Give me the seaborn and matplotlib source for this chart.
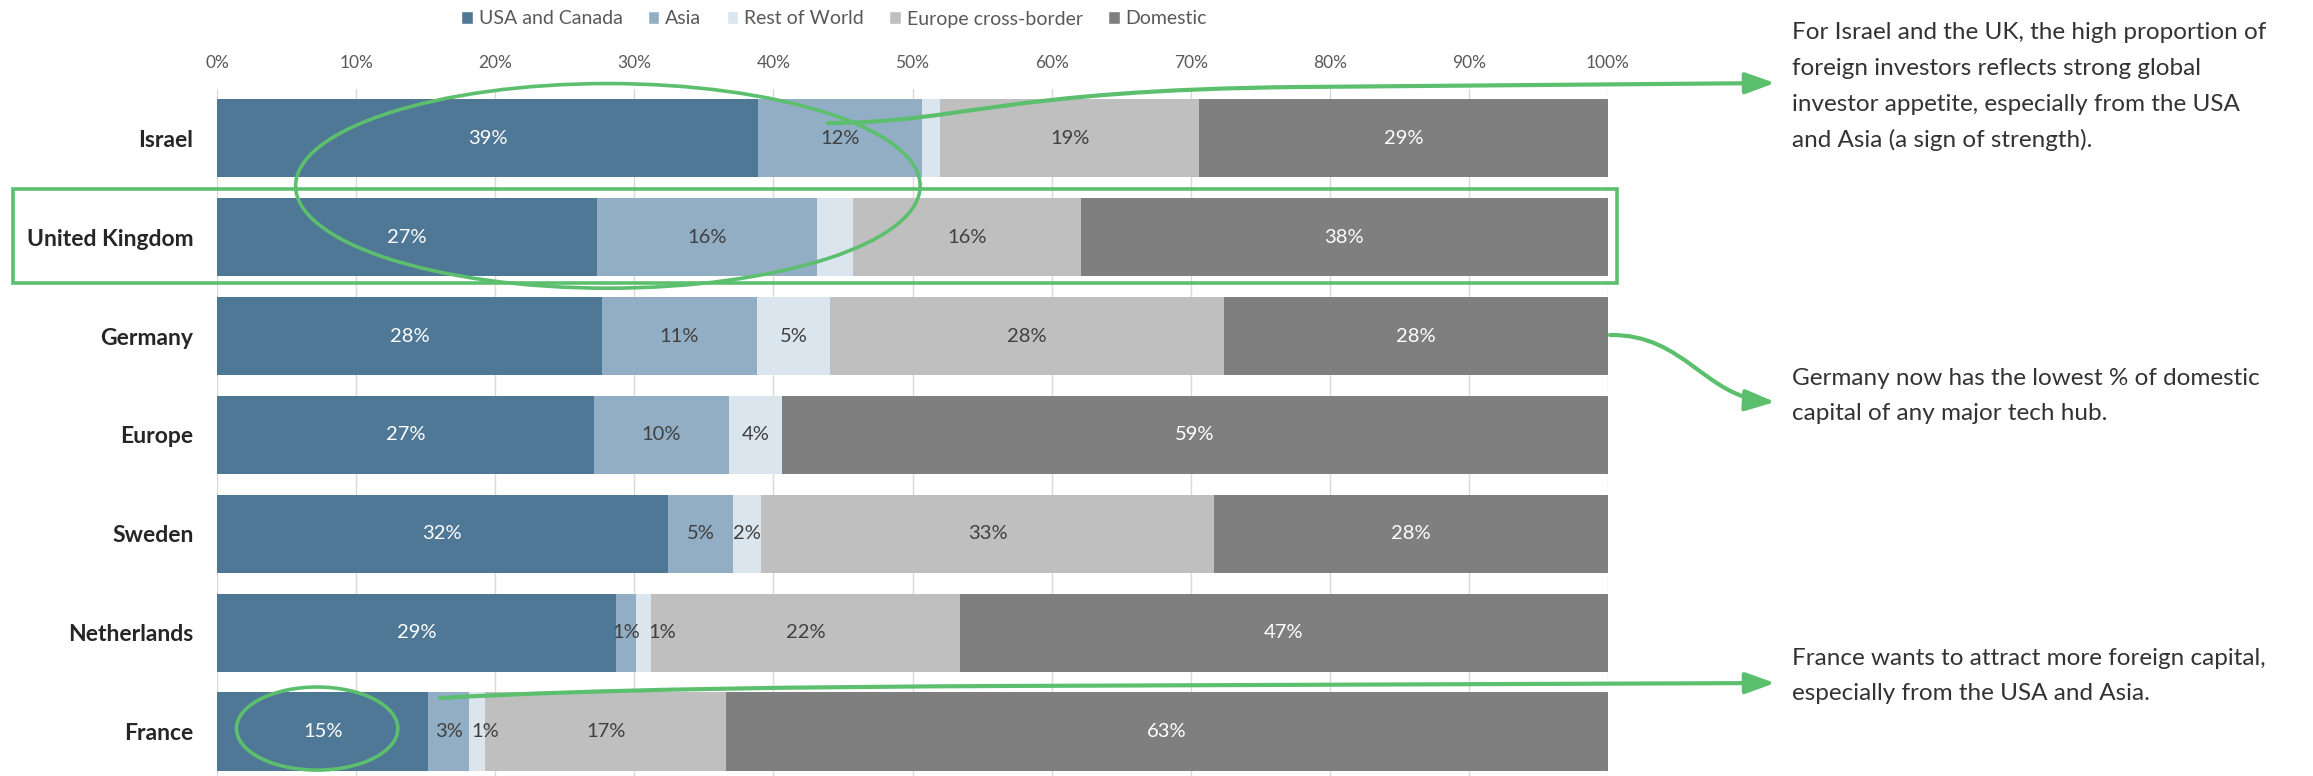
import matplotlib
matplotlib.use("Agg")
import matplotlib.pyplot as plt
import seaborn as sns
import numpy as np
import pandas as pd
from matplotlib.patches import Patch, Ellipse, Rectangle, FancyArrowPatch, ArrowStyle
from matplotlib.path import Path

# ---------------- data ----------------
countries = ["Israel", "United Kingdom", "Germany", "Europe", "Sweden", "Netherlands", "France"]
series = ["USA and Canada", "Asia", "Rest of World", "Europe cross-border", "Domestic"]
usa_canada = [38.9, 27.3, 27.7, 27.1, 32.4, 28.7, 15.2]
asia = [11.8, 15.8, 11.1, 9.7, 4.7, 1.4, 2.9]
rest_of_world = [1.3, 2.6, 5.3, 3.8, 2.0, 1.1, 1.2]
europe_cross = [18.6, 16.4, 28.3, 0.0, 32.6, 22.2, 17.3]
domestic = [29.4, 37.9, 27.6, 59.4, 28.3, 46.6, 63.4]
hidden_labels = [("Israel", "Rest of World"), ("United Kingdom", "Rest of World"),
                 ("Europe", "Europe cross-border")]
x_ticks = [0, 10, 20, 30, 40, 50, 60, 70, 80, 90, 100]
x_tick_labels = [f"{t}%" for t in x_ticks]

notes = [
    ["For Israel and the UK, the high proportion of",
     "foreign investors reflects strong global",
     "investor appetite, especially from the USA",
     "and Asia (a sign of strength)."],
    ["Germany now has the lowest % of domestic",
     "capital of any major tech hub."],
    ["France wants to attract more foreign capital,",
     "especially from the USA and Asia."],
]

# ---------------- style ----------------
colors = ["#4F7796", "#92AEC5", "#DAE5ED", "#BFBFBF", "#7F7F7F"]
label_colors = ["#FFFFFF", "#404040", "#404040", "#404040", "#FFFFFF"]
green = "#5CBF6E"

sns.set_theme(style="white")
plt.rcParams["font.family"] = ["Lato", "DejaVu Sans"]

W, H = 2313, 776
fig = plt.figure(figsize=(W / 100, H / 100), dpi=100)
ax = fig.add_axes([217 / W, 0, (1608 - 217) / W, 1 - 89 / H])

values = np.array([usa_canada, asia, rest_of_world, europe_cross, domestic])
cum = np.cumsum(values, axis=0)

for k in range(len(series) - 1, -1, -1):
    df = pd.DataFrame({"country": countries, "value": cum[k]})
    sns.barplot(data=df, x="value", y="country", color=colors[k], saturation=1,
                width=0.79, orient="h", ax=ax, zorder=2, linewidth=0)

ax.set_xlim(0, 100)
ax.set_ylim(6.45, -0.5)
ax.set_xlabel("")
ax.set_ylabel("")
ax.set_axisbelow(True)
ax.xaxis.tick_top()
ax.set_xticks(x_ticks)
ax.set_xticklabels(x_tick_labels)
ax.grid(axis="x", color="#D9D9D9", lw=1, zorder=0)
ax.grid(axis="y", visible=False)
for s in ax.spines.values():
    s.set_visible(False)
ax.tick_params(axis="x", length=0, pad=13, labelsize=12.5, labelcolor="#595959")
ax.tick_params(axis="y", length=0, pad=17, labelsize=16.5)
for lbl in ax.get_yticklabels():
    lbl.set_fontweight("bold")
    lbl.set_color("#262626")

# value labels
min_gap = 2.6
for i, c in enumerate(countries):
    prev = -100
    for k, sname in enumerate(series):
        v = values[k, i]
        if (c, sname) in hidden_labels or v <= 0:
            continue
        center = cum[k, i] - v / 2
        if center - prev < min_gap:
            center = prev + min_gap
        prev = center
        ax.text(center, i, f"{round(v)}%", ha="center", va="center",
                fontsize=14.5, color=label_colors[k], zorder=4)

# legend
handles = [Patch(facecolor=colors[k], label=series[k]) for k in range(len(series))]
fig.legend(handles=handles, loc="center", bbox_to_anchor=(834 / W, 1 - 19 / H),
           ncol=5, frameon=False, fontsize=14, handlelength=0.6, handleheight=0.6,
           handletextpad=0.3, columnspacing=1.3, labelcolor="#595959")

# green highlights (data coordinates)
ax.add_patch(Ellipse((28.1, 0.48), 44.9, 2.07, fill=False, ec=green, lw=2.6,
                     clip_on=False, zorder=6))
ax.add_patch(Rectangle((-14.7, 0.51), 115.35, 0.95, fill=False, ec=green, lw=2.6,
                       clip_on=False, zorder=6))
ax.add_patch(Ellipse((7.2, 5.97), 11.6, 0.84, fill=False, ec=green, lw=2.6,
                     clip_on=False, zorder=6))


def P(x, y):
    return (x / W, 1 - y / H)


style = ArrowStyle("-|>", head_length=1.8, head_width=0.65)
arrow_paths = [
    Path([P(828, 123), P(960, 123), P(1000, 90), P(1300, 87), P(1775, 83)],
         [Path.MOVETO, Path.CURVE4, Path.CURVE4, Path.CURVE4, Path.LINETO]),
    Path([P(1610, 335), P(1685, 334), P(1705, 398), P(1775, 402)],
         [Path.MOVETO, Path.CURVE4, Path.CURVE4, Path.CURVE4]),
    Path([P(440, 698), P(600, 689), P(800, 687), P(1000, 686), P(1775, 683)],
         [Path.MOVETO, Path.CURVE4, Path.CURVE4, Path.CURVE4, Path.LINETO]),
]
for pth in arrow_paths:
    arr = FancyArrowPatch(path=pth, arrowstyle=style, mutation_scale=10, lw=3,
                          color=green, transform=fig.transFigure, zorder=7)
    fig.add_artist(arr)

# annotation texts
baselines = [[39, 75, 111, 147], [385, 420], [665, 700]]
for lines, bls in zip(notes, baselines):
    for line, b in zip(lines, bls):
        fig.text(1792 / W, 1 - b / H, line, fontsize=17.5, color="#333333",
                 ha="left", va="baseline")

fig.savefig("out.png", dpi=100)
